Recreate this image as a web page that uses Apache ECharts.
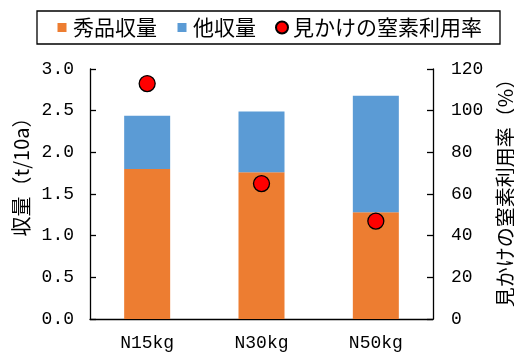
<!DOCTYPE html>
<html>
<head>
<meta charset="utf-8">
<style>
  html, body { margin: 0; padding: 0; background: #fff; }
  #chart { width: 514px; height: 353px; }
</style>
<script src="https://cdn.jsdelivr.net/npm/echarts@6/dist/echarts.min.js"></script>
</head>
<body>
<div id="chart"></div>
<script>
// Nitrogen rate treatments
var categories = ['N15kg', 'N30kg', 'N50kg'];
// Marketable yield (t/10a)
var premiumYield = [1.80, 1.76, 1.28];
// Other yield (t/10a), stacked on top
var otherYield = [0.64, 0.73, 1.40];
// Apparent nitrogen use efficiency (%)
var nUseRate = [113, 65, 47];

var seriesNames = ['秀品収量', '他収量', '見かけの窒素利用率'];
var leftAxisTitle = '収量（t/10a）';
var rightAxisTitle = '見かけの窒素利用率（%）';

var jpFont = '"Noto Sans CJK JP", sans-serif';
var numFont = '"Liberation Mono", monospace';

var chart = echarts.init(document.getElementById('chart'), null, { renderer: 'canvas' });

// square legend swatch with a little margin inside a 12x12 box
var squareIcon = 'path://M0,0M1.5,1.5h9v9h-9zM12,12';

var axisLineStyle = { color: '#000', width: 1.3 };

chart.setOption({
  animation: false,
  backgroundColor: '#fff',
  textStyle: { fontFamily: jpFont },
  legend: {
    left: 37,
    top: 11,
    padding: [6, 18, 6, 19],
    itemGap: 19,
    itemWidth: 12,
    itemHeight: 12,
    borderColor: '#000',
    borderWidth: 1.3,
    textStyle: { fontFamily: jpFont, fontSize: 21, color: '#000' },
    data: [
      { name: seriesNames[0], icon: squareIcon },
      { name: seriesNames[1], icon: squareIcon },
      { name: seriesNames[2], icon: 'circle' }
    ]
  },
  grid: { left: 90, right: 81, top: 69, bottom: 34, containLabel: false },
  xAxis: {
    type: 'category',
    data: categories,
    axisLine: { lineStyle: axisLineStyle },
    axisTick: { show: false },
    axisLabel: { margin: 15, fontFamily: numFont, fontSize: 18, color: '#000' }
  },
  yAxis: [
    {
      type: 'value',
      min: 0, max: 3, interval: 0.5,
      axisLine: { show: true, lineStyle: axisLineStyle },
      axisTick: { show: true, inside: true, length: 6, lineStyle: axisLineStyle },
      splitLine: { show: false },
      axisLabel: {
        margin: 16, fontFamily: numFont, fontSize: 18, color: '#000',
        formatter: function (v) { return v.toFixed(1); }
      }
    },
    {
      type: 'value',
      min: 0, max: 120, interval: 20,
      position: 'right',
      axisLine: { show: true, lineStyle: axisLineStyle },
      axisTick: { show: true, inside: true, length: 6, lineStyle: axisLineStyle },
      splitLine: { show: false },
      axisLabel: { margin: 18, fontFamily: numFont, fontSize: 18, color: '#000' }
    }
  ],
  graphic: [
    {
      type: 'text',
      x: 21, y: 172,
      rotation: Math.PI / 2,
      style: {
        text: leftAxisTitle, fontFamily: jpFont, fontSize: 20, fill: '#000',
        align: 'center', verticalAlign: 'middle'
      }
    },
    {
      type: 'text',
      x: 505, y: 188,
      rotation: Math.PI / 2,
      style: {
        text: rightAxisTitle, fontFamily: jpFont, fontSize: 20, fill: '#000',
        align: 'center', verticalAlign: 'middle'
      }
    }
  ],
  series: [
    {
      name: seriesNames[0],
      type: 'bar',
      stack: 'yield',
      barWidth: 46,
      itemStyle: { color: '#ED7D31' },
      data: premiumYield
    },
    {
      name: seriesNames[1],
      type: 'bar',
      stack: 'yield',
      barWidth: 46,
      itemStyle: { color: '#5B9BD5' },
      data: otherYield
    },
    {
      name: seriesNames[2],
      type: 'scatter',
      yAxisIndex: 1,
      symbol: 'circle',
      symbolSize: 16,
      itemStyle: { color: '#FF0000', borderColor: '#000', borderWidth: 1.3, opacity: 1 },
      z: 5,
      data: nUseRate
    }
  ]
});
</script>
</body>
</html>
